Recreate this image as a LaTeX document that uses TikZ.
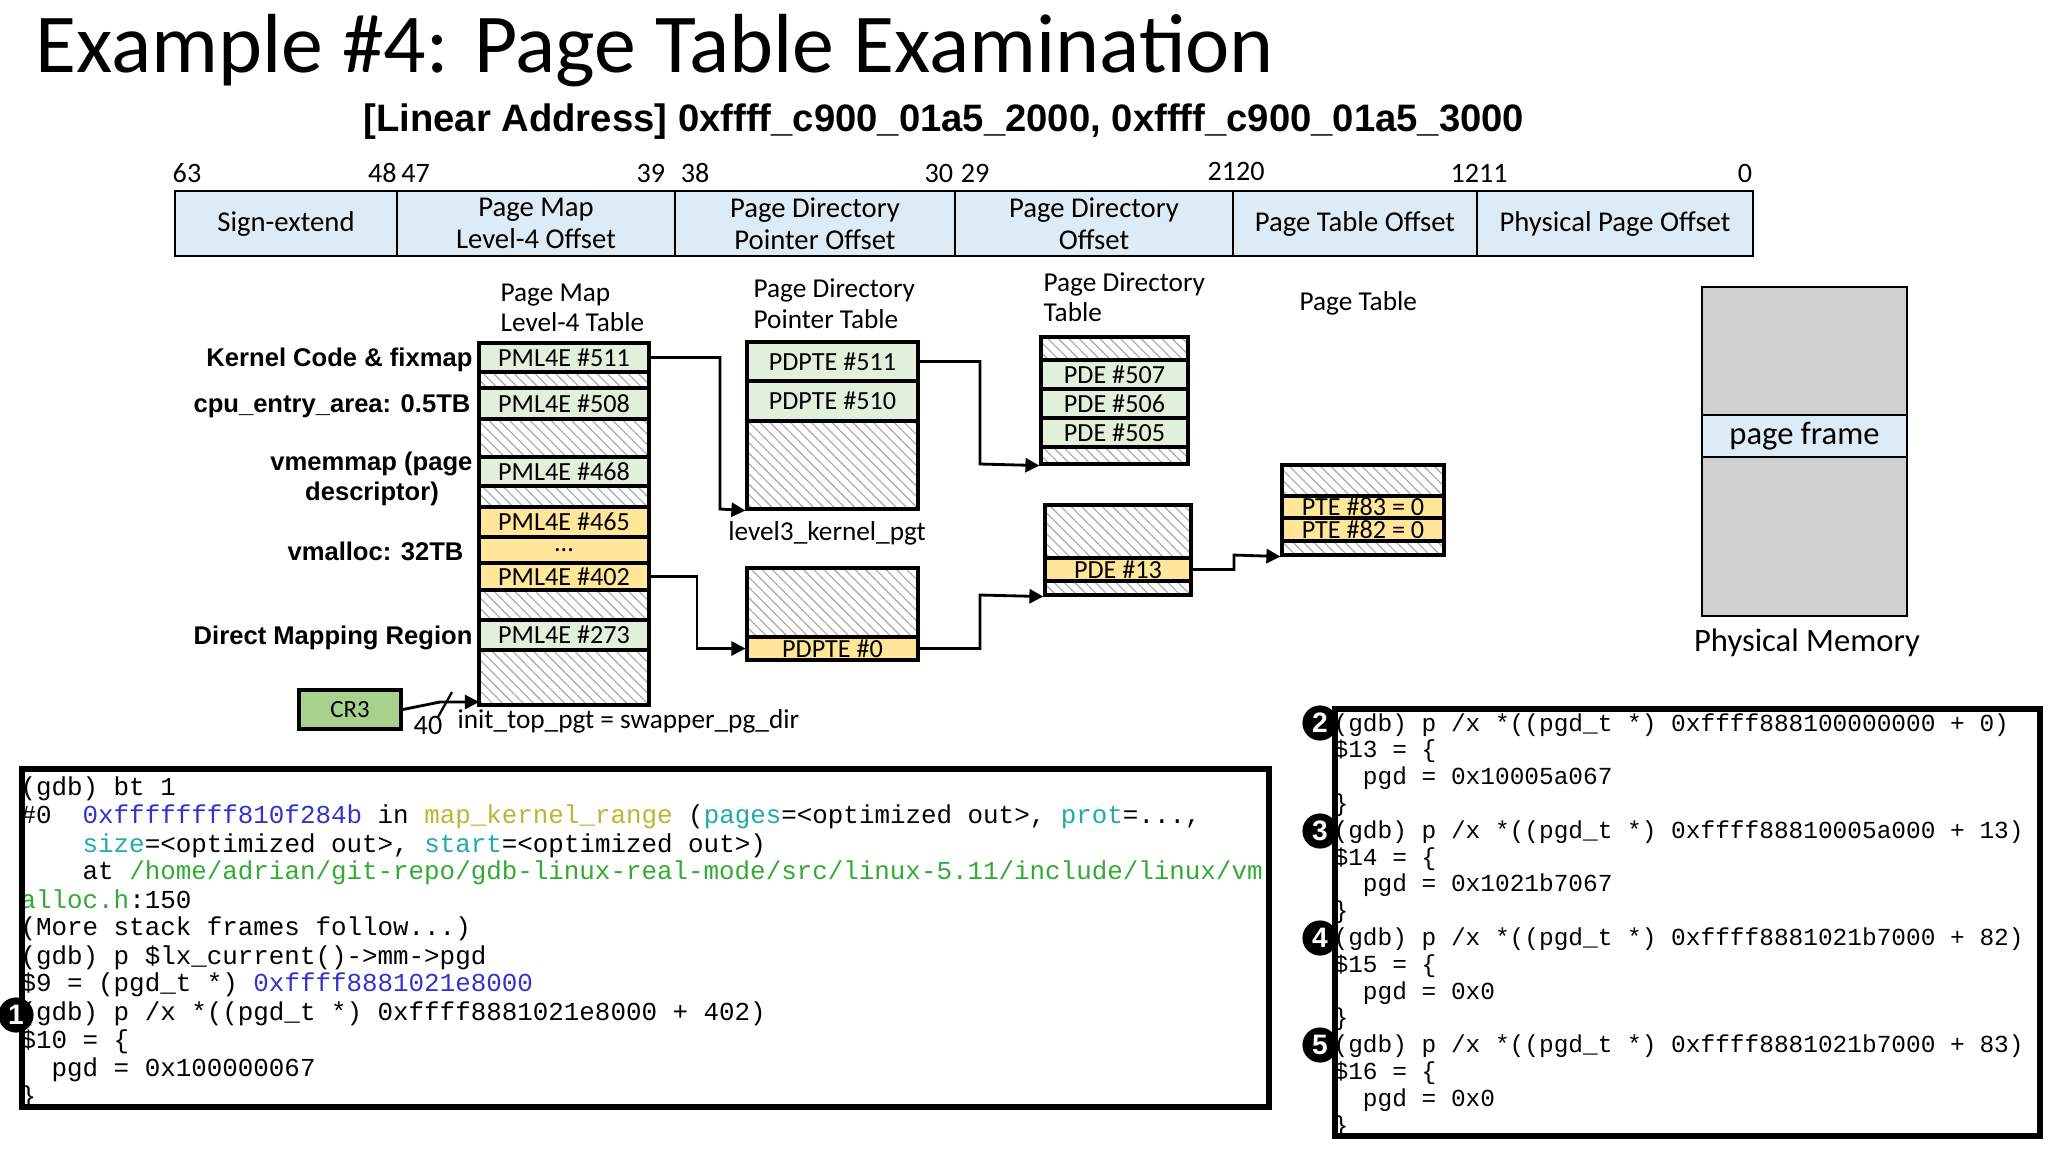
\documentclass[tikz,border=0pt]{standalone}
\usepackage{fontspec}
\setmainfont{Carlito}
\setmonofont{Liberation Mono}
\newfontfamily\arialb{Liberation Sans}[BoldFont={Liberation Sans Bold}]
\usetikzlibrary{patterns.meta,arrows.meta}
\definecolor{entg}{HTML}{E2EFDA}
\definecolor{enty}{HTML}{FFE699}
\definecolor{addrb}{HTML}{DDEBF7}
\definecolor{memg}{HTML}{D0D0D0}
\definecolor{crg}{HTML}{A9D18E}
\definecolor{cblue}{HTML}{3333CC}
\definecolor{cyel}{HTML}{B8B830}
\definecolor{cteal}{HTML}{22AAAA}
\definecolor{cgreen}{HTML}{33AA33}
\newcommand{\fs}[1]{\fontsize{#1}{#1}\selectfont}
\newcommand{\rowbox}[7]{\node[#6,minimum width={(#4-#2)*0.0125cm},minimum height={(#5-#3)*0.0125cm}] (#1) at ({(#2+#4)/2},{(#3+#5)/2}) {#7};}
\tikzset{
  ent/.style={draw=black,line width=1.1pt,inner sep=0pt,font=\fs{9.3}},
  hat/.style={draw=black,line width=1.1pt,inner sep=0pt,pattern={Lines[angle=-45,distance=2.6pt,line width=0.4pt]},pattern color=gray!70},
  abox/.style={draw=black,line width=0.9pt,fill=addrb,inner sep=0pt,font=\fs{10.2},align=center},
  mbox/.style={draw=black,line width=0.9pt,inner sep=0pt,font=\fs{11.6}},
  lbl/.style={font=\fs{9.7},anchor=base west,align=left,inner sep=0pt},
  bl/.style={font=\arialb\bfseries\fs{9.1},anchor=base east,inner sep=0pt,align=center},
  bit/.style={font=\fs{10},anchor=base,inner sep=0pt},
  conn/.style={line width=1pt,-{Triangle[length=5pt,width=5pt]}},
  cl/.style={font=\ttfamily\fs{9.2},anchor=base west,inner sep=0pt},
  cr/.style={font=\ttfamily\fs{8.7},anchor=base west,inner sep=0pt},
  num/.style={circle,fill=black,text=white,inner sep=0pt,minimum size=12.5pt,font=\arialb\bfseries\fs{10}},
}
\begin{document}
\begin{tikzpicture}[x=0.0125cm,y=-0.0125cm]
\useasboundingbox (0,0) rectangle (2048,1152);
% title
\node[anchor=base west,inner sep=0pt,font=\fs{29.8}] (title) at (35,72) {Example \#4: Page Table Examination};
\node[anchor=base,inner sep=0pt,font=\arialb\bfseries\fs{13.6}] (sub) at (944,131) {[Linear Address] 0xffff\_c900\_01a5\_2000, 0xffff\_c900\_01a5\_3000};
% bit numbers
\node[bit] (b63) at (187,182) {63};
\node[bit] (b48) at (399,182) {48\,47};
\node[bit] (b39) at (673,182) {39\;\;38};
\node[bit] (b30) at (957,182) {30\;29};
\node[bit] (b21) at (1236,180) {2120};
\node[bit] (b12) at (1479,182) {1211};
\node[bit] (b0) at (1745,182) {0};
% address bar
\rowbox{a1}{175}{191}{397}{256}{abox}{Sign-extend}
\rowbox{a2}{397}{191}{675}{256}{abox}{Page Map\\[1pt]Level-4 Offset}
\rowbox{a3}{675}{191}{955}{256}{abox}{Page Directory\\[1pt]Pointer Offset}
\rowbox{a4}{955}{191}{1233}{256}{abox}{Page Directory\\[1pt]Offset}
\rowbox{a5}{1233}{191}{1477}{256}{abox}{Page Table Offset}
\rowbox{a6}{1477}{191}{1753}{256}{abox}{Physical Page Offset}
% headers
\node[lbl] (h1) at (500,301) {Page Map};
\node[lbl] (h1b) at (500,331) {Level-4 Table};
\node[lbl] (h2) at (753,297) {Page Directory};
\node[lbl] (h2b) at (753,328) {Pointer Table};
\node[lbl] (h3) at (1043,291) {Page Directory};
\node[lbl] (h3b) at (1043,321) {Table};
\node[lbl] (h4) at (1299,310) {Page Table};
% PML4 table
\rowbox{p511}{479}{343}{649}{372}{ent,fill=entg}{PML4E \#511}
\rowbox{ph1}{479}{372}{649}{388}{hat}{}
\rowbox{p508}{479}{388}{649}{419}{ent,fill=entg}{PML4E \#508}
\rowbox{ph2}{479}{419}{649}{457}{hat}{}
\rowbox{p468}{479}{457}{649}{486}{ent,fill=entg}{PML4E \#468}
\rowbox{ph3}{479}{486}{649}{507}{hat}{}
\rowbox{p465}{479}{507}{649}{537}{ent,fill=enty}{PML4E \#465}
\rowbox{pdots}{479}{537}{649}{563}{ent,fill=enty}{...}
\rowbox{p402}{479}{563}{649}{590}{ent,fill=enty}{PML4E \#402}
\rowbox{ph4}{479}{590}{649}{620}{hat}{}
\rowbox{p273}{479}{620}{649}{650}{ent,fill=entg}{PML4E \#273}
\rowbox{ph5}{479}{650}{649}{705}{hat}{}
% left labels
\node[bl] (k1) at (473,366) {Kernel Code \& fixmap};
\node[bl] (k2) at (471,412) {cpu\_entry\_area: 0.5TB};
\node[bl] (k3) at (473,470) {vmemmap (page};
\node[bl,anchor=base] (k3b) at (372,500) {descriptor)};
\node[bl] (k4) at (464,560) {vmalloc: 32TB};
\node[bl] (k5) at (473,644) {Direct Mapping Region};
% PDPT upper
\rowbox{d511}{747}{342}{918}{381}{ent,fill=entg}{PDPTE \#511}
\rowbox{d510}{747}{381}{918}{421}{ent,fill=entg}{PDPTE \#510}
\rowbox{dh1}{747}{421}{918}{509}{hat}{}
\node[lbl,anchor=base] (l3) at (827,540) {level3\_kernel\_pgt};
% PDPT lower
\rowbox{dh2}{747}{568}{918}{637}{hat}{}
\rowbox{d0}{747}{637}{918}{660}{ent,fill=enty}{PDPTE \#0}
% PD upper
\rowbox{eh1}{1041}{337}{1188}{360}{hat}{}
\rowbox{e507}{1041}{360}{1188}{389}{ent,fill=entg}{PDE \#507}
\rowbox{e506}{1041}{389}{1188}{418}{ent,fill=entg}{PDE \#506}
\rowbox{e505}{1041}{418}{1188}{447}{ent,fill=entg}{PDE \#505}
\rowbox{eh2}{1041}{447}{1188}{464}{hat}{}
% PD lower
\rowbox{eh3}{1045}{505}{1191}{558}{hat}{}
\rowbox{e13}{1045}{558}{1191}{581}{ent,fill=enty}{PDE \#13}
\rowbox{eh4}{1045}{581}{1191}{595}{hat}{}
% PT
\rowbox{th1}{1282}{465}{1444}{496}{hat}{}
\rowbox{t83}{1282}{496}{1444}{518}{ent,fill=enty}{PTE \#83 = 0}
\rowbox{t82}{1282}{518}{1444}{541}{ent,fill=enty}{PTE \#82 = 0}
\rowbox{th2}{1282}{541}{1444}{555}{hat}{}
% physical memory
\rowbox{m1}{1702}{287}{1907}{415}{mbox,fill=memg}{}
\rowbox{mf}{1702}{415}{1907}{457}{mbox,fill=addrb}{page frame}
\rowbox{m2}{1702}{457}{1907}{616}{mbox,fill=memg}{}
\node[anchor=base,inner sep=0pt,font=\fs{11.6}] (pm) at (1807,651) {Physical Memory};
% CR3
\rowbox{cr3}{299}{690}{401}{729}{draw=black,line width=1.3pt,fill=crg,inner sep=0pt,font=\fs{8.8}}{CR3}
\coordinate (cra) at (479,702);
\draw[conn] (cr3.east) -- (440,702) -- (cra);
\draw[line width=0.8pt] (438,717) -- (452,692);
\node[bit,anchor=base] (n40) at (428,734) {40};
\node[lbl] (itp) at (457,728) {init\_top\_pgt = swapper\_pg\_dir};
% connectors
\draw[conn] (p511.east) -- (720,357.5) -- (720,509) -- (dh1.south west);
\draw[conn] (d511.east) -- (980,361.5) -- (980,464) -- (eh2.south west);
\draw[conn] (p402.east) -- (697,576.5) -- (697,648.5) -- (d0.west);
\draw[conn] (d0.east) -- (980,648.5) -- (980,595) -- (eh4.south west);
\draw[conn] (e13.east) -- (1234,569.5) -- (1234,555) -- (th2.south west);
% left gdb box
\begin{scope}
\clip (22,769) rectangle (1269,1107);
\node[cl] (g1) at (20,795) {(gdb) bt 1};
\node[cl] (g2) at (20,823) {\#0~ \textcolor{cblue}{0xffffffff810f284b} in \textcolor{cyel}{map\_kernel\_range} (\textcolor{cteal}{pages}=<optimized out>, \textcolor{cteal}{prot}=...,};
\node[cl] (g3) at (20,852) {~~~~\textcolor{cteal}{size}=<optimized out>, \textcolor{cteal}{start}=<optimized out>)};
\node[cl] (g4) at (20,879) {~~~~at \textcolor{cgreen}{/home/adrian/git-repo/gdb-linux-real-mode/src/linux-5.11/include/linux/vm}};
\node[cl] (g5) at (20,908) {\textcolor{cgreen}{alloc.h}:150};
\node[cl] (g6) at (20,935) {(More stack frames follow...)};
\node[cl] (g7) at (20,964) {(gdb) p \$lx\_current()->mm->pgd};
\node[cl] (g8) at (20,991) {\$9 = (pgd\_t *) \textcolor{cblue}{0xffff8881021e8000}};
\node[cl] (g9) at (20,1020) {(gdb) p /x *((pgd\_t *) 0xffff8881021e8000 + 402)};
\node[cl] (g10) at (20,1048) {\$10 = \{};
\node[cl] (g11) at (20,1076) {~~pgd = 0x100000067};
\node[cl] (g12) at (20,1104) {\}};
\end{scope}
\draw[line width=2.2pt] (22,769) rectangle (1269,1107);
\node[num] (c1) at (16,1015) {1};
% right gdb box
\begin{scope}
\clip (1335,709) rectangle (2040,1136);
\foreach \t [count=\i from 0] in {
 {(gdb) p /x *((pgd\_t *) 0xffff888100000000 + 0)},{\$13 = \{},{~~pgd = 0x10005a067},{\}},
 {(gdb) p /x *((pgd\_t *) 0xffff88810005a000 + 13)},{\$14 = \{},{~~pgd = 0x1021b7067},{\}},
 {(gdb) p /x *((pgd\_t *) 0xffff8881021b7000 + 82)},{\$15 = \{},{~~pgd = 0x0},{\}},
 {(gdb) p /x *((pgd\_t *) 0xffff8881021b7000 + 83)},{\$16 = \{},{~~pgd = 0x0},{\}}}
 \node[cr] (r\i) at (1333,{731+26.8*\i}) {\t};
\end{scope}
\draw[line width=2.2pt] (1335,709) rectangle (2040,1136);
\node[num] (c2) at (1320,723) {2};
\node[num] (c3) at (1320,831) {3};
\node[num] (c4) at (1320,938) {4};
\node[num] (c5) at (1320,1045) {5};
\end{tikzpicture}
\end{document}
